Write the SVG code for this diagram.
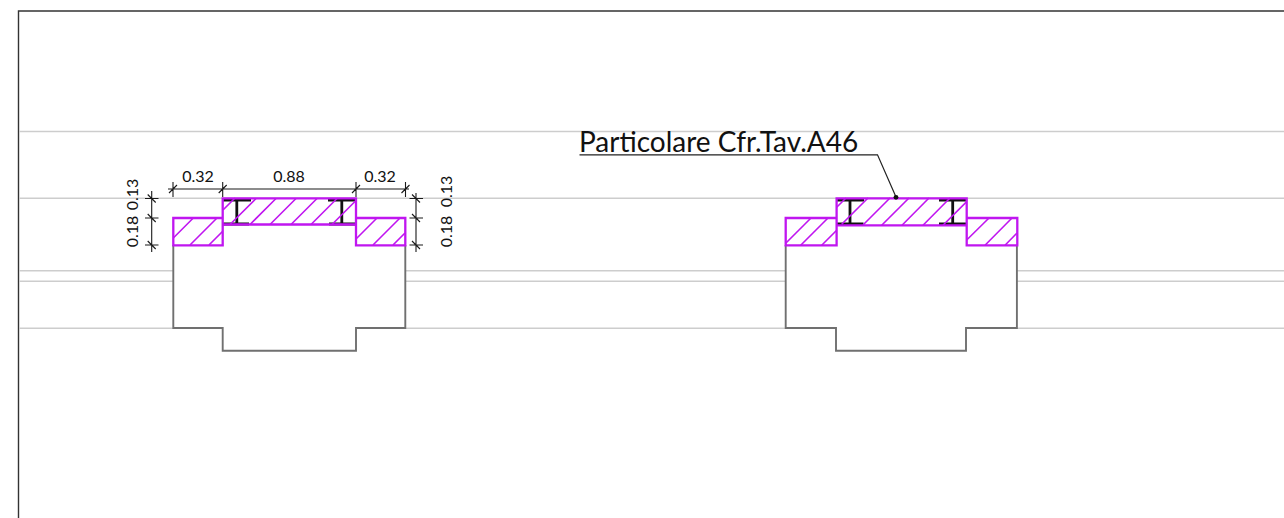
<svg xmlns="http://www.w3.org/2000/svg" width="1284" height="518" viewBox="0 0 1284 518">
<style>
.g{fill:none;stroke:#cdcdcd;stroke-width:1.5}
.b{fill:none;stroke:#707070;stroke-width:1.9}
.m{fill:none;stroke:#c016f0;stroke-width:2.3}
.h{fill:none;stroke:#c016f0;stroke-width:1.6}
.i{fill:none;stroke:#111;stroke-width:2.8}
.d{fill:none;stroke:#1a1a1a;stroke-width:1.1}
text{font-family:"Lato","Liberation Sans",sans-serif;fill:#111}
.t{font-size:16px;text-anchor:middle}
</style>
<rect width="1284" height="518" fill="#fff"/>
<g id="frame"><path d="M18.5 518V11H1284" fill="none" stroke="#333" stroke-width="1.4"/></g>
<g id="level-lines">
<path class="g" d="M19 131.5H1284M19 198.3H1284M19 270.7H173M405 270.7H786M1017 270.7H1284M19 281.3H173M405 281.3H786M1017 281.3H1284M19 328.3H173M405 328.3H786M1017 328.3H1284"/>
</g>
<g id="section-left">
<path fill="#fff" d="M173.3 218H405.3V328H356V350.7H222.7V328H173.3Z"/>
<path class="b" d="M173.3 245V328H222.7V350.7H356V328H405.3V245"/>
<path class="i" d="M223 200.2H251M236.8 200V224M222 224H249M328 200.2H355M341.8 200V224M329 224H356"/>
<path class="h" d="M173.3 238L193.3 218M190 245L217 218M209 245L222.5 231.5M223 210L235 198M230 224.5L256 198.5M250 224.5L276 198.5M270 224.5L296 198.5M291 224.5L317 198.5M311 224.5L337 198.5M332 224.5L356 200.5M356.5 238.5L377 218M373 245L400 218M393 245L405 233"/>
<path class="m" d="M173.3 218H222.7V198.3H356V218H405.3V245.3H356V224.5H222.7V245.3H173.3ZM222.7 218V224.5M356 218V224.5"/>
</g>
<g id="section-right">
<path fill="#fff" d="M785.7 218H1016.9V328H966V350.7H836V328H785.7Z"/>
<path class="b" d="M785.7 245V328H836V350.7H966V328H1016.9V245"/>
<path class="i" d="M836.7 200.2H864M850 200V224M836 223.8H863.5M939 200.2H966.5M952.7 200V224M939 223.8H966"/>
<path class="h" d="M785.7 243.3L811 218M800.7 245.3L828 218M821.7 245.3L836.7 230.3M836.7 207.3L846 198M841.7 224.3L868 198M863 225L890 198M881.7 225.3L909 198M902 225.3L929 198M923 225.3L950 198M943 225.3L966.7 201.6M966.7 240L989 218M985 245.3L1012 218M1005 245.3L1017 233"/>
<path class="m" d="M785.7 218H836.6V198.3H966.7V218H1017.3V245.3H966.7V225.3H836.6V245.3H785.7ZM836.6 218V225.3M966.7 218V225.3"/>
</g>
<g id="connectors">
<g id="dim-horizontal"><path class="d" d="M168 189H409M173 182V197M222.7 182V197M356 182V197M405.5 182V197M169 193L177 185M218.7 193L226.7 185M352 193L360 185M401.5 193L409.5 185"/></g>
<g id="dim-left"><path class="d" d="M151.7 191V252M145 198.5H158.5M145 218H158.5M145 245H158.5M147.7 194.5L155.7 202.5M147.7 214L155.7 222M147.7 241L155.7 249"/></g>
<g id="dim-right"><path class="d" d="M416 193V252M409.5 198.5H423M409.5 218H423M409.5 245H423M412 194.5L420 202.5M412 214L420 222M412 241L420 249"/></g>
<g id="leader"><path d="M579.5 154.8H877.5L896 197" fill="none" stroke="#222" stroke-width="1.2"/><circle cx="896" cy="197.3" r="2.4" fill="#111"/></g>
</g>
<g id="labels">
<text class="t" x="198" y="182">0.32</text>
<text class="t" x="289" y="182">0.88</text>
<text class="t" x="380" y="182">0.32</text>
<text class="t" transform="translate(138 194.5) rotate(-90)">0.13</text>
<text class="t" transform="translate(138 231.5) rotate(-90)">0.18</text>
<text class="t" transform="translate(452 191.5) rotate(-90)">0.13</text>
<text class="t" transform="translate(452 231.5) rotate(-90)">0.18</text>
<text x="579" y="152" font-size="28px">Particolare Cfr.Tav.A46</text>
</g>
</svg>
